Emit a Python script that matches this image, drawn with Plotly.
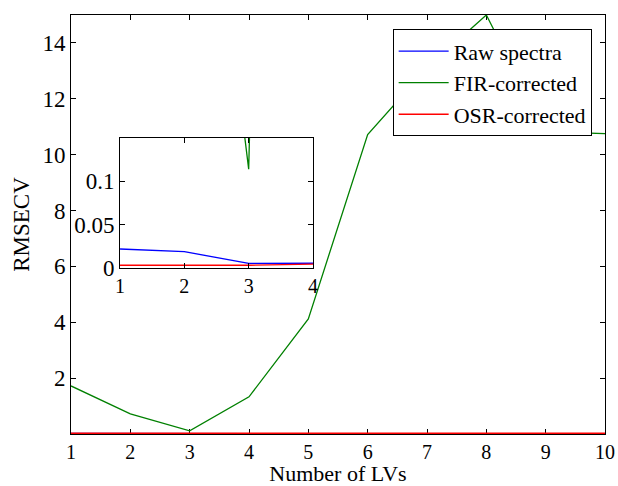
import plotly.graph_objects as go

# Number of latent variables
lvs = [1, 2, 3, 4, 5, 6, 7, 8, 9, 10]

# RMSECV for each pre-processing
raw_spectra = [0.0216, 0.0185, 0.0050, 0.0058, 0.0058, 0.0058, 0.0058, 0.0058, 0.0058, 0.0058]
fir_corrected = [1.72, 0.72, 0.114, 1.33, 4.12, 10.72, 13.1, 15.0, 10.82, 10.75]
osr_corrected = [0.0028, 0.0028, 0.0028, 0.0040, 0.0040, 0.0040, 0.0040, 0.0040, 0.0040, 0.0040]

series_names = ["Raw spectra", "FIR-corrected", "OSR-corrected"]
series_values = [raw_spectra, fir_corrected, osr_corrected]
series_colors = ["#0000ff", "#008000", "#ff0000"]
# the red curve sits on the x axis of the main panel, so it is drawn wider there
main_widths = [1.3, 1.3, 2.6]

main_yticks = [2, 4, 6, 8, 10, 12, 14]
inset_xticks = [1, 2, 3, 4]
inset_yticks = [0, 0.05, 0.1]
inset_yticklabels = ["0", "0.05", "0.1"]

FONT = "Liberation Serif"
FS = 23      # y tick labels, y title
FS_LEG = 22  # legend
FS_X = 20    # x tick labels
FS_XT = 22   # x title

fig = go.Figure()

# main panel
for name, vals, col, w in zip(series_names, series_values, series_colors, main_widths):
    fig.add_trace(go.Scatter(
        x=lvs, y=vals, mode="lines", name=name, showlegend=False,
        line=dict(color=col, width=w),
        xaxis="x", yaxis="y",
    ))

# zoomed inset on the first four LVs (these carry the legend entries)
for name, vals, col in zip(series_names, series_values, series_colors):
    fig.add_trace(go.Scatter(
        x=lvs, y=vals, mode="lines", name=name, showlegend=True,
        line=dict(color=col, width=1.3),
        xaxis="x2", yaxis="y2",
    ))

axis_style = dict(
    showline=True, linecolor="black", linewidth=1, mirror="ticks",
    ticks="inside", ticklen=5, tickcolor="black", tickwidth=1,
    showgrid=False, zeroline=False, automargin=False,
)
xfont = dict(family=FONT, size=FS_X, color="black")
yfont = dict(family=FONT, size=FS, color="black")

fig.update_layout(
    width=618, height=486,
    margin=dict(l=71, r=13, t=15, b=52),
    paper_bgcolor="white", plot_bgcolor="white",
    font=dict(family=FONT, size=FS, color="black"),
    xaxis=dict(
        domain=[0, 1], range=[1, 10], tickvals=lvs, layer="below traces",
        tickfont=xfont,
        title=dict(text="Number of LVs", font=dict(family=FONT, size=FS_XT), standoff=5),
        **axis_style,
    ),
    yaxis=dict(
        domain=[0, 1], range=[0, 15], tickvals=main_yticks, tickfont=yfont,
        title=dict(text="RMSECV", font=dict(family=FONT, size=FS), standoff=6),
        **axis_style,
    ),
    xaxis2=dict(
        domain=[0.0918, 0.4532], range=[1, 4], tickvals=inset_xticks,
        tickfont=xfont, anchor="y2", **axis_style,
    ),
    yaxis2=dict(
        domain=[0.397, 0.7064], range=[0, 0.15], tickvals=inset_yticks,
        ticktext=inset_yticklabels, tickfont=yfont, anchor="x2", **axis_style,
    ),
    legend=dict(
        x=0.975, y=0.966, xanchor="right", yanchor="top",
        bgcolor="white", bordercolor="black", borderwidth=1,
        font=dict(family=FONT, size=FS_LEG, color="black"),
        itemwidth=50, tracegroupgap=0,
    ),
    showlegend=True,
)

fig.add_shape(
    type="rect", xref="x2 domain", yref="y2 domain",
    x0=0, x1=1, y0=0, y1=1, layer="below",
    fillcolor="white", line=dict(width=0),
)

fig.write_html("out.html")
